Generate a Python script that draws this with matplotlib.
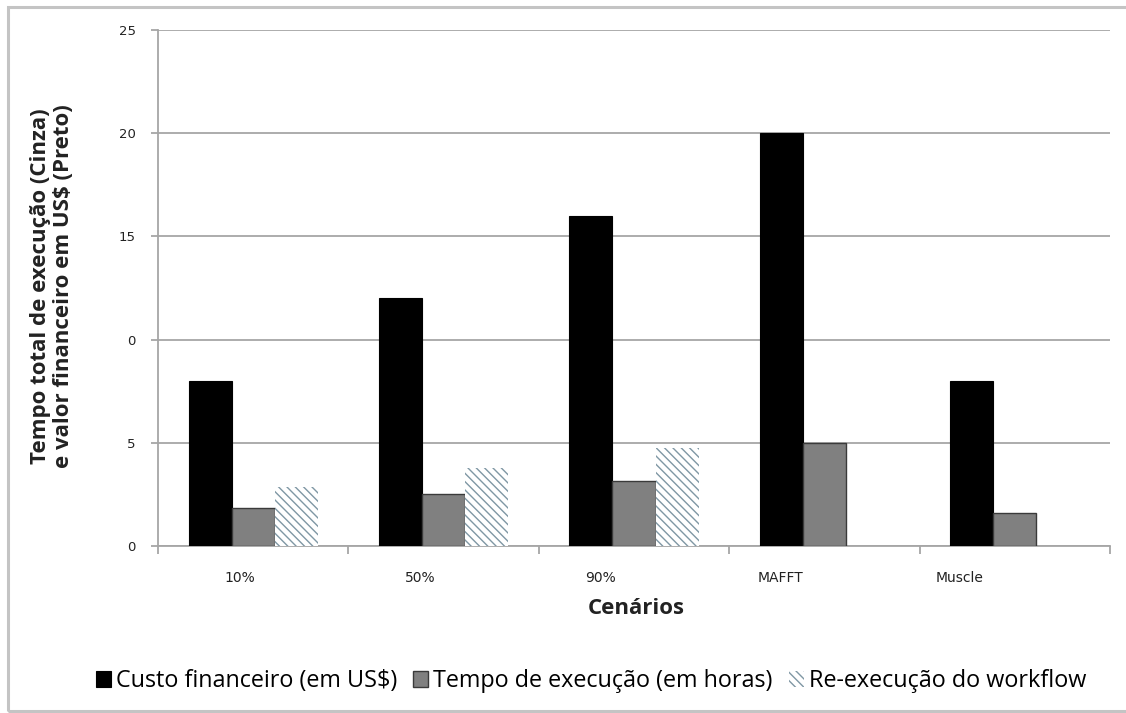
import numpy as np
import matplotlib
matplotlib.use("Agg")
import matplotlib.pyplot as plt
from matplotlib.patches import Rectangle

# Data
cenarios = ["10%", "50%", "90%", "MAFFT", "Muscle"]
custo_financeiro = [8, 12, 16, 20, 8]
tempo_execucao = [1.85, 2.5, 3.15, 5.0, 1.6]
reexecucao = [2.85, 3.8, 4.75, 0, 0]
yticks = [0, 5, 10, 15, 20, 25]
ytick_labels = ["0", "5", "0", "15", "20", "25"]

series_labels = ["Custo financeiro (em US$)",
                 "Tempo de execução (em horas)",
                 "Re-execução do workflow"]

fig = plt.figure(figsize=(11.26, 7.13), dpi=100)
fig.patch.set_facecolor("white")

# outer chart frame (right edge runs past the canvas)
fig.patches.append(Rectangle((8 / 1126, 2 / 713), 1.5, 704 / 713,
                             transform=fig.transFigure, fill=False,
                             edgecolor="#c4c4c4", linewidth=2.2, zorder=0))

ax = fig.add_axes([158 / 1126, 1 - 546 / 713, 952 / 1126, 516 / 713])

x = np.arange(len(cenarios))
w = 0.226
grid_col = "#a6a6a6"

ax.bar(x - w, custo_financeiro, w, color="black", edgecolor="black",
       linewidth=0.8, label=series_labels[0], zorder=3)
ax.bar(x, tempo_execucao, w, color="#808080", edgecolor="#3a3a3a",
       linewidth=1.0, label=series_labels[1], zorder=3)
ax.bar(x + w, reexecucao, w, color="white", edgecolor="#7f97a4",
       linewidth=0, hatch="\\\\\\\\", label=series_labels[2], zorder=3)

ax.set_xlim(-0.5, len(cenarios) - 0.5)
ax.set_ylim(0, 25)

ax.set_yticks(yticks)
ax.set_yticklabels(ytick_labels, fontsize=9.5, color="#222222")
ax.yaxis.grid(True, color=grid_col, linewidth=1.3, zorder=0)
ax.set_axisbelow(True)
ax.tick_params(axis="y", length=5, width=1.3, color=grid_col, pad=11)

# category labels and boundary tick marks
label_pos = -0.068 + 0.945 * x
ax.set_xticks(label_pos)
ax.set_xticklabels(cenarios, fontsize=10, color="#222222")
ax.set_xticks(np.arange(-0.5, len(cenarios)), minor=True)
ax.tick_params(axis="x", which="major", length=0, pad=18)
ax.tick_params(axis="x", which="minor", length=6, width=1.3, color=grid_col)

for side in ["top", "right"]:
    ax.spines[side].set_visible(False)
for side in ["left", "bottom"]:
    ax.spines[side].set_color(grid_col)
    ax.spines[side].set_linewidth(1.3)

fig.text(636 / 1126, 1 - 608 / 713, "Cenários", fontsize=16, fontweight="bold",
         family=["Open Sans", "DejaVu Sans"],
         ha="center", va="center", color="#222222")
fig.text(52 / 1126, 1 - 286 / 713,
         "Tempo total de execução (Cinza)\ne valor financeiro em US$ (Preto)",
         fontsize=16, fontweight="bold", family=["Open Sans", "DejaVu Sans"],
         rotation=90, ha="center", va="center",
         linespacing=1.1, multialignment="center", color="#222222")

fig.legend(loc="center", bbox_to_anchor=(591 / 1126, 1 - 681 / 713), ncol=3,
           frameon=False, prop={"family": ["Open Sans", "DejaVu Sans"], "size": 16.8},
           handlelength=0.65, handleheight=0.65,
           handletextpad=0.2, columnspacing=0.7)

fig.savefig("out.png", dpi=100, facecolor="white")
